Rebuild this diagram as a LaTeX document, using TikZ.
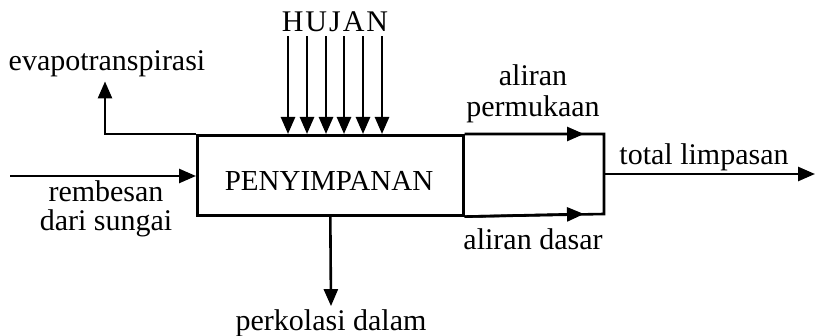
\documentclass[tikz,border=0pt]{standalone}
\usepackage{fontspec}
\setmainfont{Liberation Serif}
\usetikzlibrary{arrows.meta,calc}
\begin{document}
\begin{tikzpicture}[x=1pt,y=-1pt,
  line width=2.6pt,
  arr/.style={-{Triangle[length=17pt,width=14pt]}},
  lbl/.style={font=\fontsize{30}{30}\selectfont, inner sep=0pt, align=center},
  boxstyle/.style={draw, minimum width=266pt, minimum height=80pt, inner sep=0pt, anchor=north west}]
\useasboundingbox (0,0) rectangle (816,336);
% main storage box
\node[boxstyle] (store) at (196,134) {};
\node[lbl, font=\fontsize{29}{29}\selectfont] (storetext) at (329,181) {PENYIMPANAN};
% right section corners
\coordinate (ne) at (604,134);
\coordinate (se) at (604,214);
\draw (store.north east) -- (ne) -- (se) -- (store.south east);
\draw[arr] (store.north east) -- ($(ne)+(-20,0)$);
\draw[arr] (store.south east) -- ($(se)+(-20,0)$);
% rain
\node[lbl] (hujan) at (335,22) {H\hspace{2pt}U\hspace{2pt}J\hspace{2pt}A\hspace{2pt}N};
\foreach \d in {-47,-28,-9,9,28,47}
  \draw[arr] ([xshift=\d pt, yshift=-3pt]hujan.south) -- ([xshift=\d pt]hujan.south |- store.north);
% evapotranspiration
\node[lbl] (evap) at (107,64) {evapotranspirasi};
\draw[arr] (store.north west) -| ([xshift=-2pt, yshift=-3pt]evap.south);
% seepage in
\coordinate (inflow) at (10,176);
\draw[arr] (inflow) -- (inflow -| store.west);
\node[lbl] (remb) at (106,209) {rembesan\\[-1pt]dari sungai};
% percolation
\node[lbl] (perk) at (331,323) {perkolasi dalam};
\draw[arr] (store.south) -- ([yshift=2pt]perk.north);
% flow labels
\node[lbl] (surf) at (533,94) {aliran\\[1pt]permukaan};
\node[lbl] (base) at (533,239) {aliran dasar};
% total runoff
\coordinate (mid) at ($(ne)!0.5!(se)$);
\coordinate (outend) at (815,174);
\draw[arr] (mid) -- (outend);
\node[lbl] (total) at (704,157) {total limpasan};
\end{tikzpicture}
\end{document}
